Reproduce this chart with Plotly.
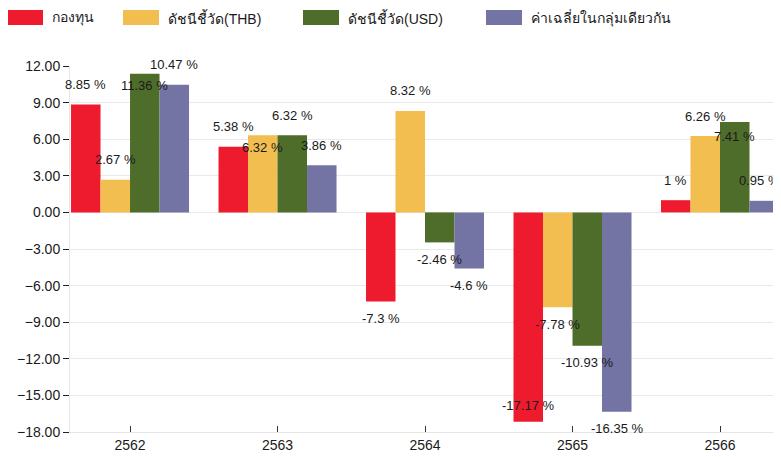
import plotly.graph_objects as go

# ---- data ----
years = ["2562", "2563", "2564", "2565", "2566"]
series_names = ["กองทุน", "ดัชนีชี้วัด(THB)", "ดัชนีชี้วัด(USD)", "ค่าเฉลี่ยในกลุ่มเดียวกัน"]
fund = [8.85, 5.38, -7.3, -17.17, 1]
bench_thb = [2.67, 6.32, 8.32, -7.78, 6.26]
bench_usd = [11.36, 6.32, -2.46, -10.93, 7.41]
peer_avg = [10.47, 3.86, -4.6, -16.35, 0.95]
y_ticks = [12, 9, 6, 3, 0, -3, -6, -9, -12, -15, -18]

# ---- style ----
colors = ["#EE1B2E", "#F2BE4F", "#4E6D2A", "#7373A4"]
FONT = "Liberation Sans, Arial, Noto Sans, DejaVu Sans, sans-serif"
BODY = 8  # default page body margin
W, H = 781 - BODY, 457 - BODY
ML, MR, MT, MB = 62, 2, 58, 25
PW, PH = W - ML - MR, H - MT - MB
XRANGE = [-0.407, 4.40]
BARGAP = 0.2

all_series = [fund, bench_thb, bench_usd, peer_avg]
x_idx = list(range(len(years)))
n = len(all_series)
slot = (1 - BARGAP) / n

fig = go.Figure()
for name, vals, c in zip(series_names, all_series, colors):
    fig.add_trace(go.Bar(x=x_idx, y=vals, name=name, marker=dict(color=c, line=dict(width=0)),
                         showlegend=False, hoverinfo="skip"))

# value labels (per-label offsets mimic the reference's collision handling)
shift_override = {(2, 0): -12, (1, 1): -12, (2, 4): -14, (0, 3): 16}
xshift_override = {(3, 4): -5}
for j, vals in enumerate(all_series):
    off = (j - (n - 1) / 2) * slot
    for i, v in enumerate(vals):
        ys = shift_override.get((j, i), 20 if v >= 0 else -17)
        fig.add_annotation(x=x_idx[i] + off, y=v, xref="x", yref="y", yshift=ys,
                           xshift=xshift_override.get((j, i), 0),
                           text=f"{v:g} %", showarrow=False,
                           xanchor="center", yanchor="middle",
                           font=dict(family=FONT, size=13, color="#1a1a1a"))

# custom legend (wide colour swatches); positions given in page pixels
def px2paper_x(p):
    return (p - BODY - ML) / PW

def px2paper_y(p):
    return (MT + PH - (p - BODY)) / PH

legend_swatch_x = [7, 123, 303, 486]
for k, (name, c) in enumerate(zip(series_names, colors)):
    x0 = legend_swatch_x[k]
    fig.add_shape(type="rect", xref="paper", yref="paper",
                  x0=px2paper_x(x0), x1=px2paper_x(x0 + 36),
                  y0=px2paper_y(25), y1=px2paper_y(10),
                  fillcolor=c, line=dict(width=0))
    fig.add_annotation(xref="paper", yref="paper", x=px2paper_x(x0 + 43), y=px2paper_y(17.5),
                       xanchor="left", yanchor="middle", text=name, showarrow=False,
                       font=dict(family=FONT, size=14, color="#1a1a1a"))

fig.update_layout(
    width=W, height=H, barmode="group", bargap=BARGAP, bargroupgap=0,
    margin=dict(l=ML, r=MR, t=MT, b=MB),
    plot_bgcolor="white", paper_bgcolor="white",
    font=dict(family=FONT, size=13, color="#1a1a1a"),
)
fig.update_xaxes(range=XRANGE, tickvals=x_idx, ticktext=years, showgrid=False, zeroline=False,
                 showline=True, linecolor="#e6e6e6", linewidth=1, ticks="inside", ticklen=6,
                 tickcolor="#333333", tickfont=dict(size=14, color="#1a1a1a"))
fig.update_yaxes(range=[-18, 12], tickvals=y_ticks, tickformat=".2f", showgrid=True,
                 gridcolor="#e9e9e9", gridwidth=1, zeroline=False, showline=True,
                 linecolor="#e6e6e6", linewidth=1, ticks="outside", ticklen=6,
                 tickcolor="#222222", tickfont=dict(size=14, color="#1a1a1a"))

fig.write_html("out.html")
